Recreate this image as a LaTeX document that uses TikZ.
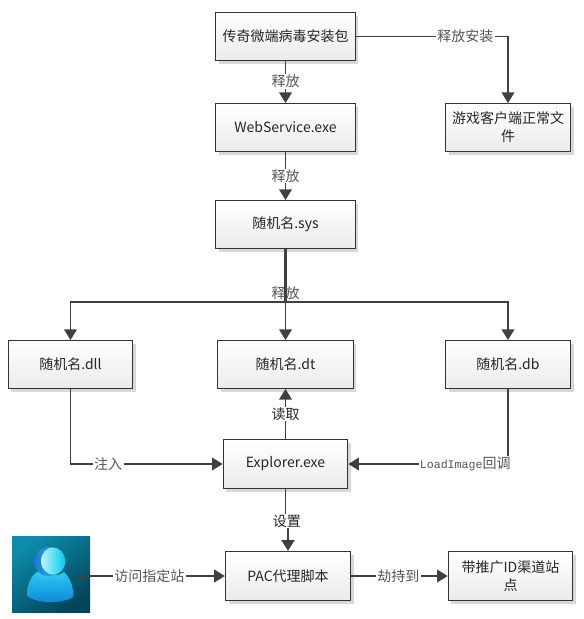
\documentclass[tikz,border=0pt]{standalone}
\usepackage{fontspec}
\setmainfont{Noto Sans CJK SC}
\newfontfamily\labelfont{Liberation Mono}
\usetikzlibrary{arrows.meta,shadows,calc}

\definecolor{linegray}{HTML}{404040}
\definecolor{labelgray}{HTML}{555555}
\definecolor{icontop}{HTML}{0C8CAA}
\definecolor{iconlow}{HTML}{04445A}
\definecolor{bodytop}{HTML}{30CCF4}
\definecolor{bodylow}{HTML}{0C86D8}
\definecolor{headrim}{HTML}{1A78D0}
\definecolor{headlit}{HTML}{C0F2FC}
\definecolor{headsat}{HTML}{00CCF0}
\tikzset{
  flowbox/.style={rectangle, draw=black!80, line width=0.7pt, top color=white, bottom color=black!8,
    minimum height=36pt, inner sep=1pt, align=center, font=\fontsize{10.5pt}{13.5pt}\selectfont,
    text=black!85, drop shadow={shadow xshift=2.4pt, shadow yshift=-2.4pt, fill=black!30, opacity=0.5}},
  flowline/.style={draw=linegray, line width=1.3pt},
  flowarrow/.style={flowline, -{Triangle[length=8pt,width=9.5pt]}},
  flowlabel/.style={fill=white, inner xsep=1pt, inner ysep=0.5pt, text=labelgray, font=\fontsize{10.5pt}{12pt}\selectfont},
  darklabel/.style={flowlabel, text=black!85}
}

\begin{document}
\begin{tikzpicture}[x=0.75pt,y=-0.75pt]
\useasboundingbox (0,0) rectangle (584,619);

\node[flowbox, minimum width=104.5pt] (package) at (285.5,36.5) {传奇微端病毒安装包};
\node[flowbox, minimum width=104.5pt] (webservice) at (285.5,127.5) {WebService.exe};
\node[flowbox, minimum width=104.5pt] (sysfile) at (285.5,224.5) {随机名.sys};
\node[flowbox, minimum width=94pt] (gamefiles) at (508,127.5) {游戏客户端正常文\\件};
\node[flowbox, minimum width=93.5pt] (dllfile) at (70.5,364.5) {随机名.dll};
\node[flowbox, minimum width=101.5pt] (dtfile) at (285.5,364.5) {随机名.dt};
\node[flowbox, minimum width=94pt] (dbfile) at (508,364.5) {随机名.db};
\node[flowbox, minimum width=93.5pt, minimum height=37pt] (explorer) at (285.5,464) {Explorer.exe};
\node[flowbox, minimum width=94pt, minimum height=37pt] (pacscript) at (288,576) {PAC代理脚本};
\node[flowbox, minimum width=93.5pt, minimum height=37pt] (sitepage) at (510.5,576) {带推广ID渠道站\\点};

% user icon
\node[rectangle, minimum width=58.5pt, minimum height=57pt, inner sep=0pt, shading=axis, top color=icontop, bottom color=iconlow, shading angle=35] (usericon) at (51,574) {};
\shade[top color=bodytop, bottom color=bodylow]
  (27,596) .. controls (27,582) and (33,572) .. (42,570) .. controls (46,576) and (58,577) .. (64,572)
  .. controls (70,578) and (74,587) .. (73,597) .. controls (62,604) and (38,604) .. (27,596) -- cycle;
\shade[left color=headrim, right color=bodytop] (49.5,561.5) ellipse (15.5 and 14.5);
\shade[left color=headlit, right color=headsat] (53,561) ellipse (12 and 13.5);
\coordinate (userhand) at (75,576);

\coordinate (relay) at (285.5,302);
\coordinate (setjog) at (287,521);

\draw[flowarrow] (package.south) -- node[flowlabel, pos=0.49] {释放} (webservice.north);
\draw[flowarrow] (package.east) -| node[flowlabel, pos=0.36] {释放安装} (gamefiles.north);
\draw[flowarrow] (webservice.south) -- node[flowlabel, pos=0.5] {释放} (sysfile.north);
\draw[flowarrow] (sysfile.south) -- (dtfile.north);
\draw[flowline, line width=1.7pt] (sysfile.south) -- (relay);
\draw[flowarrow] (relay) -| (dllfile.north);
\draw[flowarrow] (relay) -| (dbfile.north);
\node[text=labelgray, inner sep=0pt, font=\fontsize{10.5pt}{12pt}\selectfont] (releaselabel) at (285.5,293.5) {释放};
\draw[flowarrow] (explorer.north) -- node[darklabel, pos=0.5] {读取} (dtfile.south);
\draw[flowarrow] (dllfile.south) |- node[flowlabel, pos=0.624] {注入} (explorer.west);
\draw[flowarrow] (dbfile.south) |- node[flowlabel, pos=0.634] {{\labelfont\fontsize{8.7pt}{12pt}\selectfont LoadImage}回调} (explorer.east);
\draw[flowarrow] (explorer.south) -- (explorer.south |- setjog) -- node[darklabel] {设置} (pacscript.north |- setjog) -- (pacscript.north);
\draw[flowarrow] (userhand) -- node[flowlabel, pos=0.497] {访问指定站} (pacscript.west);
\draw[flowarrow] (pacscript.east) -- node[flowlabel, pos=0.49] {劫持到} (sitepage.west);
\end{tikzpicture}
\end{document}
